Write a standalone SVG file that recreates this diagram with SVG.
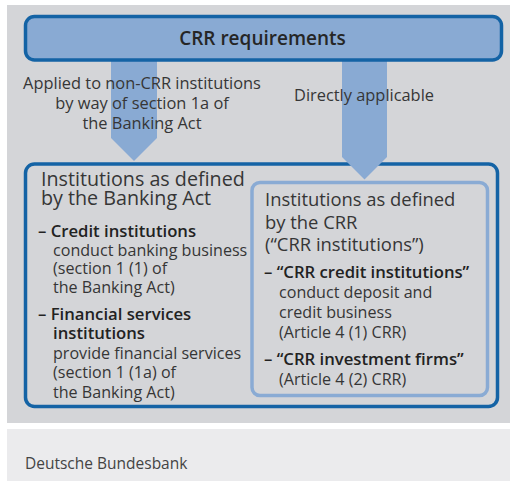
<svg xmlns="http://www.w3.org/2000/svg" width="510" height="481" viewBox="0 0 510 481">
  <style>
    text { font-family: "Open Sans", "Noto Sans", "Liberation Sans", sans-serif; fill: #363636; }
    .title { font-size: 19px; font-weight: 600; fill: #262626; }
    .head-l { font-size: 19.7px; }
    .head-r { font-size: 18.4px; }
    .label { font-size: 16.4px; }
    .body { font-size: 16.1px; }
    .b { font-size: 16.7px; font-weight: 600; fill: #222222; }
    .foot { font-size: 15.5px; fill: #444444; }
    .arrow { fill: #89aad3; }
    .strong-box { stroke: #1463a5; stroke-width: 3.5; }
  </style>

  <!-- panels -->
  <rect x="7" y="5" width="503" height="418" fill="#d4d5d8"/>
  <rect x="7" y="429" width="503" height="52" fill="#ebebed"/>

  <!-- connectors: broad block arrows from the requirements bar -->
  <g id="connectors">
    <polygon class="arrow" points="111,60 157,60 157,138 134,161 111,138"/>
  </g>

  <g id="banking-act">
    <rect x="25.5" y="164" width="472" height="242.5" rx="9" fill="none" class="strong-box"/>
    <text class="head-l" x="41" y="185.7">Institutions as defined</text>
    <text class="head-l" x="41" y="204.7">by the Banking Act</text>
    <text class="b" x="38" y="237">– Credit institutions</text>
    <text class="body" x="53" y="255.5">conduct banking business</text>
    <text class="body" x="53" y="274">(section 1 (1) of</text>
    <text class="body" x="53" y="292.5">the Banking Act)</text>
    <text class="b" x="38" y="319.5">– Financial services</text>
    <text class="b" x="53" y="339">institutions</text>
    <text class="body" x="53" y="358.5">provide financial services</text>
    <text class="body" x="53" y="378">(section 1 (1a) of</text>
    <text class="body" x="53" y="397.5">the Banking Act)</text>
  </g>

  <g id="crr-institutions">
    <rect x="252" y="182.5" width="235.5" height="213" rx="8" fill="#d4d5d8" stroke="#8aabd4" stroke-width="3.5"/>
    <text class="head-r" x="265" y="206">Institutions as defined</text>
    <text class="head-r" x="265" y="228.5">by the CRR</text>
    <text class="head-r" x="265" y="251">(“CRR institutions”)</text>
    <text class="b" x="264" y="277.5">– “CRR credit institutions”</text>
    <text class="body" x="279" y="298">conduct deposit and</text>
    <text class="body" x="279" y="318">credit business</text>
    <text class="body" x="279" y="338">(Article 4 (1) CRR)</text>
    <text class="b" x="264" y="365">– “CRR investment firms”</text>
    <text class="body" x="279" y="385">(Article 4 (2) CRR)</text>
  </g>

  <g id="connectors-front">
    <polygon class="arrow" points="342,60 387,60 387,157 364.5,179.5 342,157"/>
  </g>

  <g id="crr-requirements">
    <rect x="25.5" y="16.5" width="476" height="43.5" rx="9" fill="#89aad3" class="strong-box"/>
    <text class="title" x="262.5" y="45" text-anchor="middle">CRR requirements</text>
  </g>

  <g id="labels">
    <text class="label" x="142" y="88.5" text-anchor="middle">Applied to non-CRR institutions</text>
    <text class="label" x="142" y="109" text-anchor="middle">by way of section 1a of</text>
    <text class="label" x="142" y="129" text-anchor="middle">the Banking Act</text>
    <text class="label" x="364" y="100.5" text-anchor="middle">Directly applicable</text>
  </g>

  <text class="foot" x="25" y="469">Deutsche Bundesbank</text>
</svg>
